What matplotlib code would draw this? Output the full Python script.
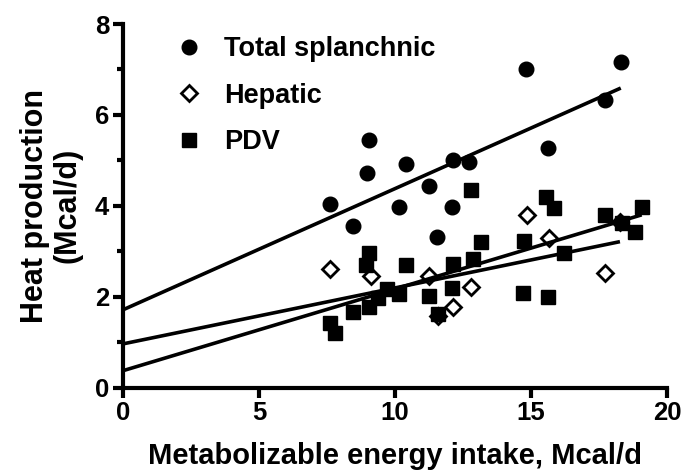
import matplotlib
matplotlib.use("Agg")
import matplotlib.pyplot as plt
from matplotlib.ticker import MultipleLocator

plt.rcParams['font.family'] = ['Liberation Sans', 'DejaVu Sans']
plt.rcParams['font.weight'] = 'bold'

# Total splanchnic (filled circles)
total_x = [7.61, 8.44, 8.98, 9.06, 10.15, 10.40, 11.26, 11.56, 12.08, 12.12, 12.73, 14.81, 15.64, 17.73, 18.30]
total_y = [4.04, 3.55, 4.72, 5.44, 3.97, 4.92, 4.44, 3.31, 3.97, 5.01, 4.97, 7.01, 5.27, 6.32, 7.17]

# Hepatic (open diamonds)
hep_x = [7.61, 9.10, 11.24, 11.58, 12.12, 12.78, 14.84, 15.67, 17.72, 18.27]
hep_y = [2.60, 2.46, 2.46, 1.58, 1.77, 2.22, 3.80, 3.30, 2.52, 3.65]

# PDV (filled squares)
pdv_x = [7.61, 7.79, 8.47, 8.93, 9.06, 9.06, 9.39, 9.69, 10.15, 10.40, 11.24, 11.57, 12.10, 12.15,
         12.85, 12.78, 13.15, 14.70, 14.75, 15.55, 15.64, 15.84, 16.22, 17.72, 18.33, 18.82, 19.07]
pdv_y = [1.41, 1.19, 1.67, 2.70, 2.97, 1.78, 1.96, 2.17, 2.05, 2.69, 2.02, 1.62, 2.20, 2.72,
         2.82, 4.34, 3.21, 2.07, 3.23, 4.19, 1.99, 3.96, 2.95, 3.80, 3.62, 3.43, 3.97]

# Regression lines (end points)
total_line_x = [0, 18.30]
total_line_y = [1.71, 6.59]
hep_line_x = [0, 18.27]
hep_line_y = [0.96, 3.21]
pdv_line_x = [0, 19.07]
pdv_line_y = [0.37, 3.80]

labels = ["Total splanchnic", "Hepatic", "PDV"]
x_ticks = [0, 5, 10, 15, 20]
y_ticks = [0, 2, 4, 6, 8]

W, H = 694, 475
fig = plt.figure(figsize=(W / 100, H / 100), dpi=100)
ax = fig.add_axes([123 / W, (H - 387.5) / H, 544 / W, 363.5 / H])

h1, = ax.plot(total_x, total_y, 'o', color='black', ms=10.5, mec='black', zorder=3, label=labels[0])
h2, = ax.plot(hep_x, hep_y, 'D', color='white', ms=8, mec='black', mew=2.0, zorder=4, label=labels[1])
h3, = ax.plot(pdv_x, pdv_y, 's', color='black', ms=9.5, mec='black', zorder=5, label=labels[2])

for lx, ly in [(total_line_x, total_line_y), (hep_line_x, hep_line_y), (pdv_line_x, pdv_line_y)]:
    ax.plot(lx, ly, '-', color='black', lw=2.6, zorder=6, solid_capstyle='butt')

ax.set_xlim(0, 20)
ax.set_ylim(0, 8)
ax.set_xticks(x_ticks)
ax.set_yticks(y_ticks)
ax.yaxis.set_minor_locator(MultipleLocator(1))
for s in ['top', 'right']:
    ax.spines[s].set_visible(False)
for s in ['left', 'bottom']:
    ax.spines[s].set_linewidth(3)
ax.tick_params(axis='both', which='major', length=7, width=3, labelsize=18.5, pad=3)
ax.tick_params(axis='y', which='minor', length=4.5, width=3)
for lab in ax.get_xticklabels() + ax.get_yticklabels():
    lab.set_fontweight('bold')

ax.set_xlabel("Metabolizable energy intake, Mcal/d", fontsize=21, fontweight='bold', labelpad=12)
ax.set_ylabel("Heat production\n(Mcal/d)", fontsize=22, fontweight='bold', labelpad=9, linespacing=1.1)

leg = ax.legend(handles=[h1, h2, h3], loc='upper left', bbox_to_anchor=(0.0956, 0.966),
                bbox_transform=ax.transAxes, frameon=False, handlelength=1.0,
                handletextpad=0.8, labelspacing=0.75, borderpad=0, borderaxespad=0,
                prop={'weight': 'bold', 'size': 19.5})

fig.savefig("out.png", dpi=100)
